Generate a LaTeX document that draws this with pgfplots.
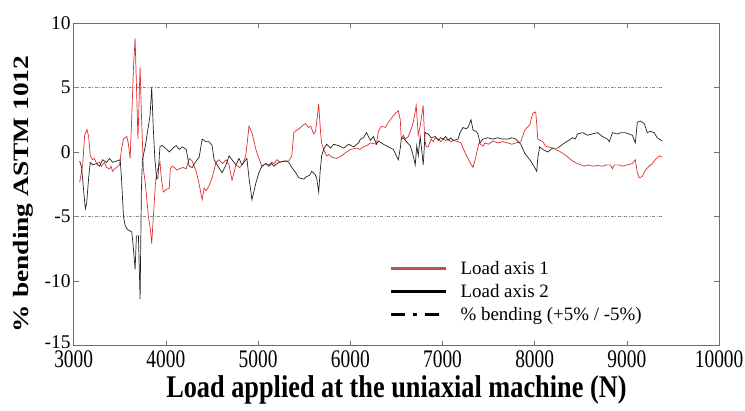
\documentclass[border=0pt]{standalone}
\usepackage{fontspec}
\setmainfont{Liberation Serif}
\usepackage{pgfplots}
\pgfplotsset{compat=1.18}
\definecolor{redline}{RGB}{222,45,45}
\definecolor{legred}{RGB}{192,80,77}
\definecolor{blackline}{RGB}{35,35,35}
\definecolor{refgray}{RGB}{140,140,150}
\definecolor{axgray}{RGB}{110,110,110}
\begin{document}
\begin{tikzpicture}
\begin{axis}[
  scale only axis, width=648pt, height=324pt,
  xmin=3000, xmax=10000, ymin=-15, ymax=10,
  xtick={3000,4000,5000,6000,7000,8000,9000,10000},
  ytick={-15,-10,-5,0,5,10},
  yticklabels={\raisebox{7pt}{-15},-10,-5,0,5,10},
  scaled x ticks=false,
  tick align=inside, major tick length=5pt,
  axis line style={axgray, line width=0.6pt},
  tick style={axgray, line width=0.6pt},
  /pgf/number format/assume math mode=true,
  /pgf/number format/1000 sep={},
  ticklabel style={font=\fontsize{19.5}{22}\selectfont},
  xticklabel={\scalebox{1}[1.3]{\pgfmathprintnumber{\tick}}},
  xticklabel style={inner sep=4.5pt},
  yticklabel style={inner sep=3pt},
  ylabel={\scalebox{1.25}[1]{\fontsize{22}{26}\selectfont\bfseries\% bending ASTM 1012}},
  ylabel style={at={(axis description cs:-0.078,0.47)}, anchor=center},
  xlabel={\scalebox{1}[1.2]{\fontsize{26.4}{30}\selectfont\bfseries Load applied at the uniaxial machine (N)}},
  xlabel style={at={(axis description cs:0.5,-0.136)}, anchor=center},
  legend style={draw=none, fill=none, at={(axis description cs:0.485,0.275)}, anchor=north west,
    font=\fontsize{19}{21}\selectfont, row sep=4.5pt,
    /tikz/every odd column/.append style={column sep=11pt}},
  legend cell align=left,
  legend image code/.code={\draw[#1] (0pt,0pt) -- (55pt,0pt);},
]
\addplot[refgray, line width=0.7pt, dash pattern=on 3pt off 1.5pt on 1pt off 1.5pt, forget plot] coordinates {(3000,5) (9400,5)};
\addplot[refgray, line width=0.7pt, dash pattern=on 3pt off 1.5pt on 1pt off 1.5pt, forget plot] coordinates {(3000,-5) (9400,-5)};
% Load axis 1 (red)
\addplot[redline, line width=0.7pt, forget plot] coordinates {
(3065,-2.35) (3097,-1.0) (3119,1.3) (3144,1.74) (3162,1.2) (3180,-0.3) (3205,-0.6) (3225,-0.5) (3248,-0.9)
(3281,-0.8) (3300,-1.1) (3313,-1.0) (3335,-0.8) (3356,-1.2) (3389,-1.3) (3405,-1.1) (3421,-1.5) (3445,-1.3) (3464,-1.2) (3497,-1.0) (3518,0.2)
(3540,1.0) (3576,1.2) (3594,0.6) (3612,-0.5) (3626,2.0) (3648,6.5) (3666,8.8) (3684,4.3)
(3697,1.0) (3720,6.6) (3734,3.0) (3756,-1.3) (3778,-2.5) (3810,-5.0) (3832,-6.0) (3846,-7.1)
(3864,-5.0) (3886,-2.5) (3900,-1.6) (3936,-0.8) (3950,-2.0) (3972,-3.1) (4004,-2.9) (4037,-2.8)
(4048,-1.3) (4070,-1.1) (4091,-1.2) (4120,-1.4) (4145,-1.3) (4185,-1.2) (4220,-1.3) (4253,-0.5) (4285,-0.7) (4328,-1.5) (4361,-2.5)
(4393,-3.7) (4415,-2.8) (4436,-3.0) (4469,-2.6) (4501,-2.0) (4544,-0.8) (4577,-0.6) (4615,-0.9) (4652,-0.6)
(4685,-1.0) (4717,-2.2) (4760,-1.0) (4800,-1.2) (4836,-0.9) (4868,-0.2) (4901,2.0) (4933,1.5) (4976,0.2)
(5009,-0.5) (5041,-1.1) (5084,-0.9) (5115,-1.0) (5149,-0.8) (5175,-0.9) (5203,-0.6) (5240,-0.8) (5279,-0.7) (5333,-0.7) (5365,-0.3)
(5387,1.5) (5420,1.7) (5462,1.9) (5490,2.1) (5516,2.2) (5545,1.9) (5570,2.0) (5603,1.4) (5624,1.6) (5657,3.7) (5678,1.5)
(5689,0.7) (5711,0.2) (5743,-0.3) (5770,-0.2) (5797,-0.4) (5851,-0.5) (5905,-0.3) (5959,0.0) (6002,0.2)
(6067,0.3) (6105,0.2) (6143,0.4) (6180,0.5) (6218,0.7) (6283,0.6) (6305,1.6) (6337,2.0) (6380,1.9) (6413,2.3)
(6445,2.6) (6488,3.0) (6521,3.2) (6542,2.5) (6553,1.0) (6575,1.3) (6596,1.0) (6629,1.2)
(6661,1.8) (6683,2.3) (6715,3.6) (6737,1.3) (6758,2.0) (6790,3.6) (6807,1.0) (6823,0.4)
(6845,0.4) (6877,1.0) (6900,0.8) (6920,1.1) (6953,1.0) (6980,0.8) (7007,1.0) (7035,0.9) (7061,1.0) (7090,0.8) (7115,0.9) (7169,0.8)
(7201,0.7) (7223,0.3) (7255,-0.2) (7298,-0.8) (7331,-1.2) (7363,-0.3) (7396,0.7) (7439,0.45)
(7460,0.7) (7500,0.6) (7547,0.85) (7600,0.7) (7655,0.8) (7709,0.7) (7750,0.6) (7795,0.7) (7849,0.8) (7892,1.7) (7946,2.1)
(7979,3.0) (8011,3.1) (8022,2.2) (8033,1.0) (8087,0.8) (8119,0.45) (8195,0.3) (8270,0.05)
(8324,-0.2) (8378,-0.5) (8411,-0.7) (8465,-0.9) (8500,-1.0) (8540,-1.1) (8580,-1.0) (8627,-1.1) (8680,-1.05) (8735,-1.1) (8780,-1.0) (8821,-1.0)
(8843,-1.3) (8864,-1.0) (8910,-1.0) (8951,-1.1) (9000,-1.0) (9059,-0.9) (9091,-0.6) (9113,-1.6) (9134,-2.0) (9167,-1.9)
(9199,-1.4) (9242,-1.1) (9275,-0.9) (9307,-0.6) (9350,-0.3) (9383,-0.4)
};
% Load axis 2 (black)
\addplot[blackline, line width=0.7pt, forget plot] coordinates {
(3065,-0.7) (3086,-1.2) (3108,-3.0) (3126,-4.4) (3140,-4.0) (3162,-2.0) (3180,-0.8) (3205,-1.0)
(3248,-0.9) (3281,-1.1) (3313,-0.6) (3356,-0.8) (3389,-0.5) (3421,-0.8) (3464,-0.7) (3504,-0.6)
(3518,-2.0) (3540,-5.0) (3558,-5.7) (3583,-6.0) (3630,-6.2) (3648,-7.5) (3666,-9.1) (3680,-6.5)
(3702,-6.5) (3720,-11.4) (3734,-3.0) (3745,-0.6) (3778,0.5) (3799,1.5) (3828,2.8) (3846,5.0)
(3864,1.7) (3880,-0.5) (3900,-2.1) (3913,-2.0) (3936,0.45) (3961,0.5) (3994,0.3) (4037,0.0)
(4075,0.3) (4112,0.5) (4145,0.2) (4177,0.4) (4220,0.2) (4253,-1.1) (4285,-1.2) (4328,-0.7) (4361,-0.4) (4393,1.0)
(4436,0.8) (4469,0.8) (4501,0.5) (4523,-0.6) (4555,-1.0) (4609,-1.6) (4652,-1.0) (4685,-0.3)
(4717,-0.6) (4760,-1.0) (4793,-0.5) (4825,-1.0) (4879,-0.5) (4901,-2.0) (4922,-3.1) (4933,-3.7)
(4976,-2.4) (5009,-1.6) (5041,-1.1) (5084,-0.9) (5117,-1.1) (5149,-0.9) (5171,-1.1) (5225,-0.8)
(5300,-0.7) (5333,-0.8) (5365,-1.2) (5408,-1.6) (5441,-2.0) (5495,-2.1) (5527,-1.9) (5560,-1.8)
(5581,-1.5) (5614,-1.7) (5635,-2.0) (5657,-3.1) (5673,-1.5) (5689,-0.3) (5711,0.2) (5743,0.6)
(5786,0.3) (5819,0.6) (5873,0.5) (5927,0.3) (5981,0.6) (6035,0.4) (6089,0.7) (6110,1.0)
(6143,1.1) (6175,1.5) (6218,0.9) (6251,1.2) (6283,0.6) (6305,0.85) (6359,0.6) (6413,0.4)
(6467,0.2) (6499,-0.3) (6521,-0.6) (6542,0.3) (6553,1.0) (6575,1.1) (6607,0.8) (6650,0.5)
(6683,-0.3) (6704,-1.0) (6721,0.5) (6737,-0.3) (6758,1.2) (6780,-0.2) (6791,-1.0) (6812,1.5)
(6845,1.4) (6877,1.1) (6920,1.2) (6953,0.9) (6980,1.1) (7007,1.0) (7035,1.2) (7061,0.9) (7090,1.1) (7115,0.9) (7169,1.0)
(7190,1.5) (7223,1.9) (7255,1.8) (7277,1.9) (7309,2.5) (7331,1.7) (7363,1.6) (7385,1.4)
(7406,0.7) (7439,1.0) (7493,1.1) (7545,1.0) (7601,1.1) (7650,1.0) (7709,1.0) (7750,1.1) (7795,1.0) (7849,0.6) (7892,-0.1)
(7925,-0.4) (7957,-0.7) (8000,-1.2) (8022,-1.5) (8033,-0.5) (8054,0.4) (8087,0.2) (8141,0.0)
(8195,0.3) (8249,0.3) (8303,0.6) (8357,0.85) (8411,1.1) (8440,1.0) (8465,1.4) (8519,1.5) (8573,1.3)
(8627,1.4) (8681,1.5) (8735,1.2) (8789,1.0) (8810,0.8) (8843,1.5) (8897,1.4) (8940,1.5) (8983,1.5) (9020,1.4)
(9059,1.3) (9091,0.7) (9113,2.3) (9145,2.4) (9188,2.2) (9221,1.5) (9253,1.6) (9296,1.5)
(9329,1.1) (9383,0.85)
};
\addlegendimage{legred, line width=3pt}
\addlegendentry{Load axis 1}
\addlegendimage{black, line width=3pt}
\addlegendentry{Load axis 2}
\addlegendimage{black, line width=3pt, dash pattern=on 14pt off 8pt on 4pt off 8pt}
\addlegendentry{\% bending (+5\% / -5\%)}
\end{axis}
\pgfresetboundingbox
\path ([xshift=-74pt,yshift=-65pt]current axis.south west) rectangle ([xshift=26pt,yshift=23pt]current axis.north east);
\end{tikzpicture}
\end{document}
